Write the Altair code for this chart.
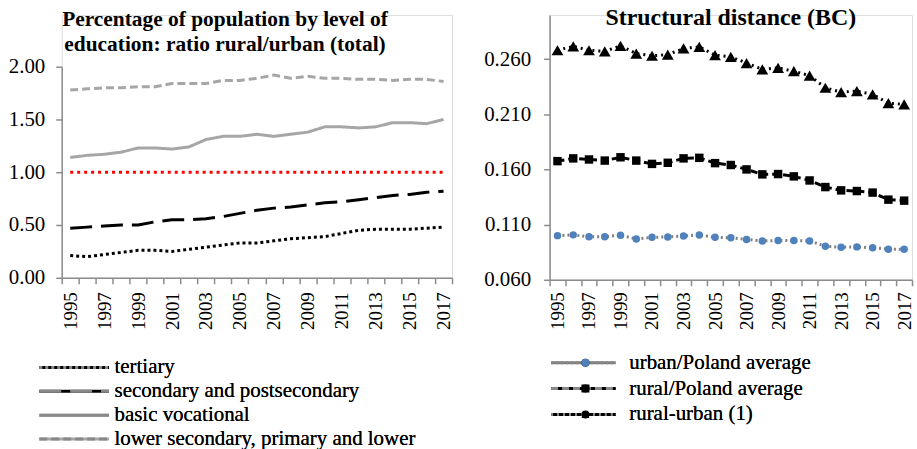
import altair as alt
import pandas as pd

FONT = "Liberation Serif, Times New Roman, serif"
AX = "#8c8c8c"

years = list(range(1995, 2018))

# Left panel: ratio rural/urban
tertiary = [0.21, 0.20, 0.22, 0.24, 0.26, 0.26, 0.25, 0.27, 0.29, 0.31, 0.33, 0.33,
            0.35, 0.37, 0.38, 0.39, 0.42, 0.45, 0.46, 0.46, 0.46, 0.47, 0.48]
secondary = [0.47, 0.48, 0.49, 0.50, 0.50, 0.53, 0.55, 0.55, 0.56, 0.58, 0.61, 0.64,
             0.66, 0.67, 0.69, 0.71, 0.72, 0.74, 0.76, 0.78, 0.79, 0.81, 0.82]
vocational = [1.14, 1.16, 1.17, 1.19, 1.23, 1.23, 1.22, 1.24, 1.31, 1.34, 1.34, 1.36,
              1.34, 1.36, 1.38, 1.43, 1.43, 1.42, 1.43, 1.47, 1.47, 1.46, 1.50]
lower = [1.78, 1.79, 1.80, 1.80, 1.81, 1.81, 1.84, 1.84, 1.84, 1.87, 1.87, 1.89,
         1.92, 1.89, 1.91, 1.89, 1.89, 1.88, 1.88, 1.87, 1.88, 1.88, 1.86]
reference_line = [1.00] * len(years)
left_ticks = [0, 0.5, 1.0, 1.5, 2.0]

left_names = ["tertiary", "secondary and postsecondary", "basic vocational",
              "lower secondary, primary and lower"]
left_colors = ["black", "black", "#a6a6a6", "#a6a6a6"]
left_dashes = [[3, 3], [22, 9], [1, 0], [8, 4]]

# Right panel: structural distance (BC)
urban_pl = [0.100, 0.1007, 0.0989, 0.099, 0.1004, 0.097, 0.0985, 0.0988, 0.0997, 0.1006,
            0.0985, 0.098, 0.0965, 0.0952, 0.0955, 0.0955, 0.0952, 0.0904, 0.0895, 0.0898,
            0.089, 0.0877, 0.0877]
rural_pl = [0.1675, 0.170, 0.169, 0.168, 0.171, 0.168, 0.165, 0.166, 0.170, 0.1705,
            0.1657, 0.164, 0.160, 0.1555, 0.1558, 0.1537, 0.150, 0.144, 0.141, 0.1404,
            0.139, 0.1326, 0.1317]
rural_urban = [0.268, 0.2715, 0.268, 0.267, 0.272, 0.265, 0.263, 0.264, 0.2696, 0.271,
               0.2636, 0.262, 0.2564, 0.2507, 0.252, 0.249, 0.245, 0.234, 0.230, 0.231,
               0.228, 0.220, 0.219]
right_ticks = [0.06, 0.11, 0.16, 0.21, 0.26]

right_names = ["urban/Poland average", "rural/Poland average", "rural-urban (1)"]
right_line_colors = ["#7f7f7f", "black", "black"]
right_fill = ["#4f81bd", "black", "black"]
right_dashes = [[2, 3], [7, 4], [2, 4]]
right_shapes = ["circle", "square", "triangle-up"]
right_marker_sizes = [56, 72, 140]

left_rows = []
for name, vals in zip(left_names, [tertiary, secondary, vocational, lower]):
    for y, v in zip(years, vals):
        left_rows.append({"year": y, "value": v, "series": name})
left_df = pd.DataFrame(left_rows)
ref_df = pd.DataFrame({"year": years, "value": reference_line})

right_rows = []
for name, vals in zip(right_names, [urban_pl, rural_pl, rural_urban]):
    for y, v in zip(years, vals):
        right_rows.append({"year": y, "value": v, "series": name, "series2": name})
right_df = pd.DataFrame(right_rows)


def x_enc(pad):
    return alt.X(
        "year:O", title=None,
        scale=alt.Scale(type="band", paddingInner=0, paddingOuter=0),
        axis=alt.Axis(labelAngle=270, tickBand="extent",
                      labelExpr="datum.value % 2 == 1 ? datum.label : ''",
                      labelFont=FONT, labelFontSize=19, labelColor="black",
                      labelPadding=pad, domainColor=AX, tickColor=AX, tickSize=6,
                      domainWidth=1.5, tickWidth=1.5, grid=False))


left_legend = alt.Legend(title=None, orient="none", legendX=-24, legendY=342,
                         symbolType="stroke", symbolSize=4900, symbolStrokeWidth=3,
                         labelFont=FONT, labelFontSize=21, labelColor="black",
                         labelOffset=4, rowPadding=0, padding=0, labelLimit=600,
                         clipHeight=24)

left_y = alt.Y("value:Q", title=None,
               scale=alt.Scale(domain=[0, 2], range=[264, 52], nice=False),
               axis=alt.Axis(values=left_ticks, format=".2f", grid=False,
                             labelFont=FONT, labelFontSize=21, labelColor="black",
                             domainColor=AX, domainWidth=1.5, domainDash=[212, 400],
                             tickColor=AX, tickSize=6, tickWidth=1.5, labelPadding=11))

left_lines = alt.Chart(left_df).mark_line(strokeWidth=3).encode(
    x=x_enc(8), y=left_y,
    color=alt.Color("series:N", sort=left_names, scale=alt.Scale(range=left_colors),
                    legend=left_legend),
    strokeDash=alt.StrokeDash("series:N", sort=left_names,
                              scale=alt.Scale(range=left_dashes), legend=left_legend),
)
left_ref = alt.Chart(ref_df).mark_line(color="#ff0000", strokeDash=[3, 4], strokeWidth=3).encode(
    x=x_enc(8), y=left_y)

left = alt.layer(left_ref, left_lines).properties(
    width=392, height=264,
    title=alt.TitleParams(["Percentage of population by level of",
                           "education: ratio rural/urban (total)"],
                          font=FONT, fontSize=21.5, fontWeight="bold", color="black",
                          anchor="middle", lineHeight=25, offset=-41, dx=-32))

right_y = alt.Y("value:Q", title=None, scale=alt.Scale(domain=[0.06, 0.30], nice=False),
                axis=alt.Axis(values=right_ticks, format=".3f",
                              grid=False, labelFont=FONT, labelFontSize=21,
                              labelColor="black", domainColor=AX, tickColor=AX,
                              tickSize=6, domainWidth=1.5, tickWidth=1.5, labelPadding=13))

right_line_legend = alt.Legend(title=None, orient="none", legendX=0, legendY=336.5,
                               symbolType="stroke", symbolSize=4225, symbolStrokeWidth=3,
                               labelFont=FONT, labelFontSize=21, labelColor="black",
                               labelOffset=12, rowPadding=0, padding=0, labelLimit=600,
                               clipHeight=25.5)
right_pt_legend = alt.Legend(title=None, orient="none", legendX=25.5, legendY=336.5,
                             symbolSize=64, labelFont=FONT, labelFontSize=21,
                             labelOpacity=0, rowPadding=0, padding=0,
                             symbolStrokeWidth=0, symbolOpacity=1, clipHeight=25.5)

right_lines = alt.Chart(right_df).mark_line(strokeWidth=3).encode(
    x=x_enc(6), y=right_y,
    stroke=alt.Stroke("series:N", sort=right_names,
                      scale=alt.Scale(range=right_line_colors), legend=right_line_legend),
    strokeDash=alt.StrokeDash("series:N", sort=right_names,
                              scale=alt.Scale(range=right_dashes), legend=right_line_legend),
)

point_layers = []
for name, msize in zip(right_names, right_marker_sizes):
    point_layers.append(
        alt.Chart(right_df).transform_filter(alt.datum.series2 == name)
        .mark_point(filled=True, size=msize, opacity=1).encode(
            x=x_enc(6), y=right_y,
            fill=alt.Fill("series2:N", sort=right_names, scale=alt.Scale(range=right_fill),
                          legend=right_pt_legend),
            shape=alt.Shape("series2:N", sort=right_names,
                            scale=alt.Scale(range=right_shapes), legend=right_pt_legend),
        ))

right = alt.layer(right_lines, *point_layers).properties(
    width=364, height=266,
    title=alt.TitleParams("Structural distance (BC)", font=FONT, fontSize=24,
                          fontWeight="bold", color="black", anchor="middle",
                          frame="group", offset=-15))

chart = alt.hconcat(left, right, spacing=29).resolve_scale(
    x="independent", y="independent", color="independent", stroke="independent",
    strokeDash="independent", fill="independent", shape="independent"
).properties(padding={"left": 7, "top": 4, "right": 2, "bottom": 0}).configure_view(
    stroke=None).configure(background="white")

chart.save("out.html", embed_options={"renderer": "svg", "actions": False})
